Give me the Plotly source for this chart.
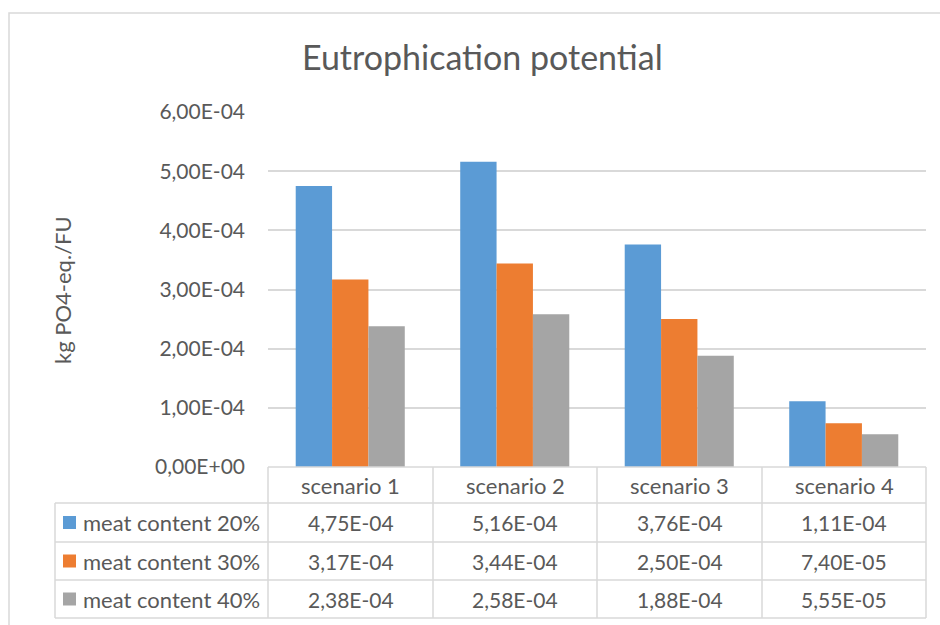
import plotly.graph_objects as go

# Chart data
scenarios = ["scenario 1", "scenario 2", "scenario 3", "scenario 4"]
series_names = ["meat content 20%", "meat content 30%", "meat content 40%"]
meat_20 = [4.75e-4, 5.16e-4, 3.76e-4, 1.11e-4]
meat_30 = [3.17e-4, 3.44e-4, 2.50e-4, 7.40e-5]
meat_40 = [2.38e-4, 2.58e-4, 1.88e-4, 5.55e-5]
tick_values = [0, 1e-4, 2e-4, 3e-4, 4e-4, 5e-4, 6e-4]
tick_labels = ["0,00E+00", "1,00E-04", "2,00E-04", "3,00E-04",
               "4,00E-04", "5,00E-04", "6,00E-04"]

colors = ["#5B9BD5", "#ED7D31", "#A5A5A5"]
series_values = [meat_20, meat_30, meat_40]

W, H = 940, 625
FONT = "Lato"
TXT = "#595959"
LINE = "#D9D9D9"


def px(x):
    return x / W


def py(y):
    return 1 - y / H


# plot area in pixels
PL, PR, PT, PB = 268, 926, 112, 467

fig = go.Figure()
for name, vals, col in zip(series_names, series_values, colors):
    fig.add_trace(go.Bar(x=scenarios, y=vals, name=name, marker_color=col,
                         marker_line_width=0, showlegend=False))


def fmt(v):
    m, e = f"{v:.2E}".split("E")
    return m.replace(".", ",") + "E" + e[0] + e[1:].zfill(2)


shapes = []
annotations = []


def label(x, y, text, size, xanchor="center", angle=0):
    annotations.append(dict(x=px(x), y=py(y), xref="paper", yref="paper",
                            text=text, showarrow=False, textangle=angle,
                            xanchor=xanchor, yanchor="middle",
                            font=dict(family=FONT, size=size, color=TXT)))


def hline(x0, x1, y):
    shapes.append(dict(type="line", xref="paper", yref="paper",
                       x0=px(x0), x1=px(x1), y0=py(y), y1=py(y),
                       line=dict(color=LINE, width=1.5)))


def vline(x, y0, y1):
    shapes.append(dict(type="line", xref="paper", yref="paper",
                       x0=px(x), x1=px(x), y0=py(y0), y1=py(y1),
                       line=dict(color=LINE, width=1.5)))


# outer chart frame
shapes.append(dict(type="rect", xref="paper", yref="paper",
                   x0=px(9), x1=px(960), y0=py(13), y1=py(650),
                   line=dict(color=LINE, width=1.5)))

# data table grid
row_edges = [467, 503, 542, 580, 618]
col_edges = [268, 433, 597, 762, 926]
label_left = 55
for i, y in enumerate(row_edges):
    hline(PL if i == 0 else label_left, PR, y)
for x in col_edges:
    vline(x, row_edges[0], row_edges[-1])
vline(label_left, row_edges[1], row_edges[-1])

# header row with scenario names
for j, s in enumerate(scenarios):
    cx = (col_edges[j] + col_edges[j + 1]) / 2
    cy = (row_edges[0] + row_edges[1]) / 2
    label(cx, cy, s, 22)

# series rows: legend key, name, values
for i, (name, vals, col) in enumerate(zip(series_names, series_values, colors)):
    cy = (row_edges[i + 1] + row_edges[i + 2]) / 2
    shapes.append(dict(type="rect", xref="paper", yref="paper",
                       x0=px(63), x1=px(76), y0=py(cy - 6.5), y1=py(cy + 6.5),
                       fillcolor=col, line=dict(width=0)))
    label(81, cy, name, 22, xanchor="left")
    for j, v in enumerate(vals):
        cx = (col_edges[j] + col_edges[j + 1]) / 2
        label(cx, cy, fmt(v), 21)

# y-axis title
label(62, 290, "kg PO4-eq./FU", 22, angle=-90)

# chart title
label(482, 57, "Eutrophication potential", 34)

fig.update_layout(
    width=W, height=H,
    margin=dict(l=0, r=0, t=0, b=0, pad=0, autoexpand=False),
    paper_bgcolor="white", plot_bgcolor="white",
    barmode="group", bargap=0.337, bargroupgap=0,
    xaxis=dict(domain=[px(PL), px(PR)], showticklabels=False, showgrid=False,
               zeroline=False, showline=False, ticks="", automargin=False),
    yaxis=dict(domain=[py(PB), py(PT)], range=[0, 6e-4],
               tickvals=tick_values, ticktext=tick_labels,
               showgrid=True, gridcolor=LINE, gridwidth=1.5,
               zeroline=False, showline=False, ticks="", automargin=False,
               ticklabelstandoff=22,
               tickfont=dict(family=FONT, size=21, color=TXT)),
    shapes=shapes, annotations=annotations,
)

fig.write_html("out.html")
